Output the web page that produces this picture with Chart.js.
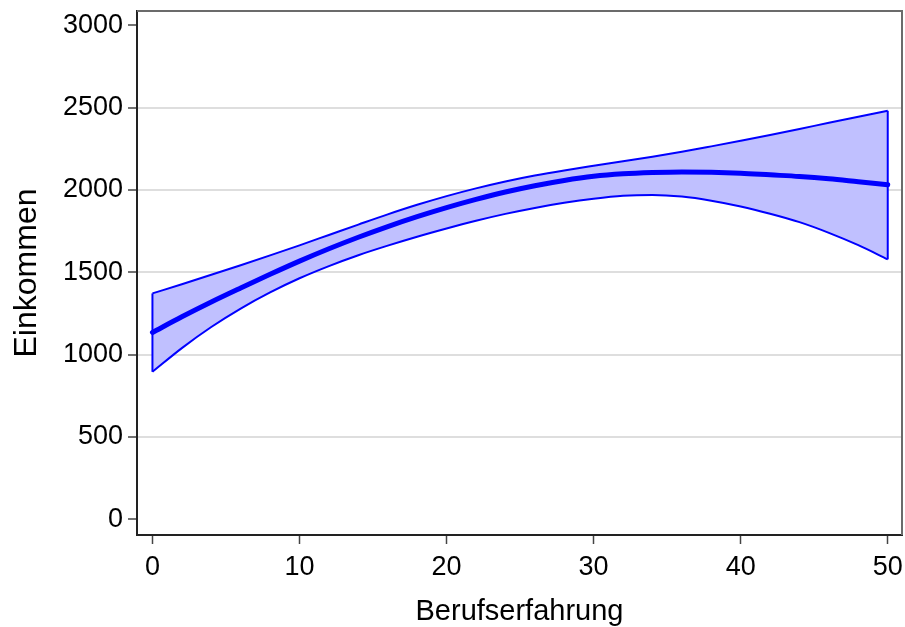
<!DOCTYPE html>
<html>
<head>
<meta charset="utf-8">
<script src="https://cdn.jsdelivr.net/npm/chart.js@4/dist/chart.umd.min.js"></script>
<style>
html,body{margin:0;padding:0;background:#fff;}
#wrap{width:905px;height:627px;}
</style>
</head>
<body>
<div id="wrap"><canvas id="c" width="905" height="627"></canvas></div>
<script>
// Data
const experience = [0,2,4,6,8,10,12,14,16,18,20,22,24,26,28,30,32,34,36,38,40,42,44,46,48,50];
const incomeFit  = [1135,1230,1320,1405,1488,1568,1643,1713,1778,1838,1893,1943,1988,2026,2058,2083,2098,2106,2110,2108,2102,2092,2082,2068,2050,2032];
const ciUpper    = [1372,1428,1485,1543,1603,1664,1727,1790,1852,1910,1963,2010,2052,2088,2119,2147,2174,2202,2232,2265,2299,2334,2371,2408,2445,2481];
const ciLower    = [896,1040,1168,1280,1378,1464,1538,1604,1662,1716,1766,1813,1855,1891,1922,1947,1965,1970,1960,1935,1900,1856,1805,1740,1665,1579];
const xTicks = [0,10,20,30,40,50];
const yTicks = [0,500,1000,1500,2000,2500,3000];
const xTitle = 'Berufserfahrung';
const yTitle = 'Einkommen';

const pts = (ys) => experience.map((x,i)=>({x:x,y:ys[i]}));
const last = experience.length - 1;
const leftEdge  = [{x:experience[0], y:ciLower[0]}, {x:experience[0], y:ciUpper[0]}];
const rightEdge = [{x:experience[last], y:ciLower[last]}, {x:experience[last], y:ciUpper[last]}];

const FONT = '"Liberation Sans", Arial, Helvetica, sans-serif';
const BLUE = '#0000ff';

const frame = {
  id:'frame',
  afterDatasetsDraw(chart){
    const {ctx, chartArea:a} = chart;
    ctx.save();
    ctx.strokeStyle = '#6b6b6b';
    ctx.lineWidth = 2;
    ctx.beginPath();
    ctx.moveTo(a.left, a.top);
    ctx.lineTo(a.right, a.top);
    ctx.lineTo(a.right, a.bottom);
    ctx.stroke();
    ctx.restore();
  }
};

const band = {borderColor:BLUE, borderWidth:2, pointRadius:0, cubicInterpolationMode:'monotone'};

new Chart(document.getElementById('c'), {
  type:'line',
  data:{
    datasets:[
      Object.assign({label:'upper', data:pts(ciUpper), fill:1, backgroundColor:'rgb(192,192,255)', order:4}, band),
      Object.assign({label:'lower', data:pts(ciLower), fill:false, order:3}, band),
      {label:'edgeL', data:leftEdge, borderColor:BLUE, borderWidth:2, pointRadius:0, fill:false, order:2},
      {label:'edgeR', data:rightEdge, borderColor:BLUE, borderWidth:2, pointRadius:0, fill:false, order:2},
      {label:'fit', data:pts(incomeFit), borderColor:BLUE, borderWidth:5, pointRadius:0, fill:false, order:1,
       borderCapStyle:'round', borderJoinStyle:'round', cubicInterpolationMode:'monotone'}
    ]
  },
  options:{
    responsive:false,
    animation:false,
    events:[],
    layout:{padding:{top:11, right:3, left:0, bottom:0}},
    plugins:{legend:{display:false}, tooltip:{enabled:false}},
    scales:{
      x:{
        type:'linear', min:-1.05, max:50.97,
        afterBuildTicks(s){ s.ticks = xTicks.map(v=>({value:v})); },
        afterFit(s){ s.height = 92; s.paddingLeft = 0; s.paddingRight = 0; },
        grid:{drawOnChartArea:false, drawTicks:true, tickLength:9, tickColor:'#444', tickWidth:1.5},
        border:{display:true, color:'#222', width:2},
        ticks:{font:{family:FONT, size:27}, color:'#000', padding:7, maxRotation:0, autoSkip:false,
               callback:(v)=>String(v)},
        title:{display:true, text:xTitle, font:{family:FONT, size:29}, color:'#000', padding:{top:0,bottom:-2}}
      },
      y:{
        type:'linear', min:-95, max:3087,
        afterBuildTicks(s){ s.ticks = yTicks.map(v=>({value:v})); },
        afterFit(s){ s.width = 137; s.paddingTop = 0; s.paddingBottom = 0; },
        grid:{
          color:(c)=> (c.tick && (c.tick.value===0 || c.tick.value===3000)) ? 'rgba(0,0,0,0)' : 'rgb(222,222,222)',
          lineWidth:2, drawTicks:true, tickLength:9, tickColor:'#444', tickWidth:1.5
        },
        border:{display:true, color:'#222', width:2},
        ticks:{font:{family:FONT, size:27}, color:'#000', padding:5, autoSkip:false,
               callback:(v)=>String(v)},
        title:{display:true, text:yTitle, font:{family:FONT, size:32}, color:'#000', padding:{top:8,bottom:0}}
      }
    }
  },
  plugins:[frame]
});
</script>
</body>
</html>
